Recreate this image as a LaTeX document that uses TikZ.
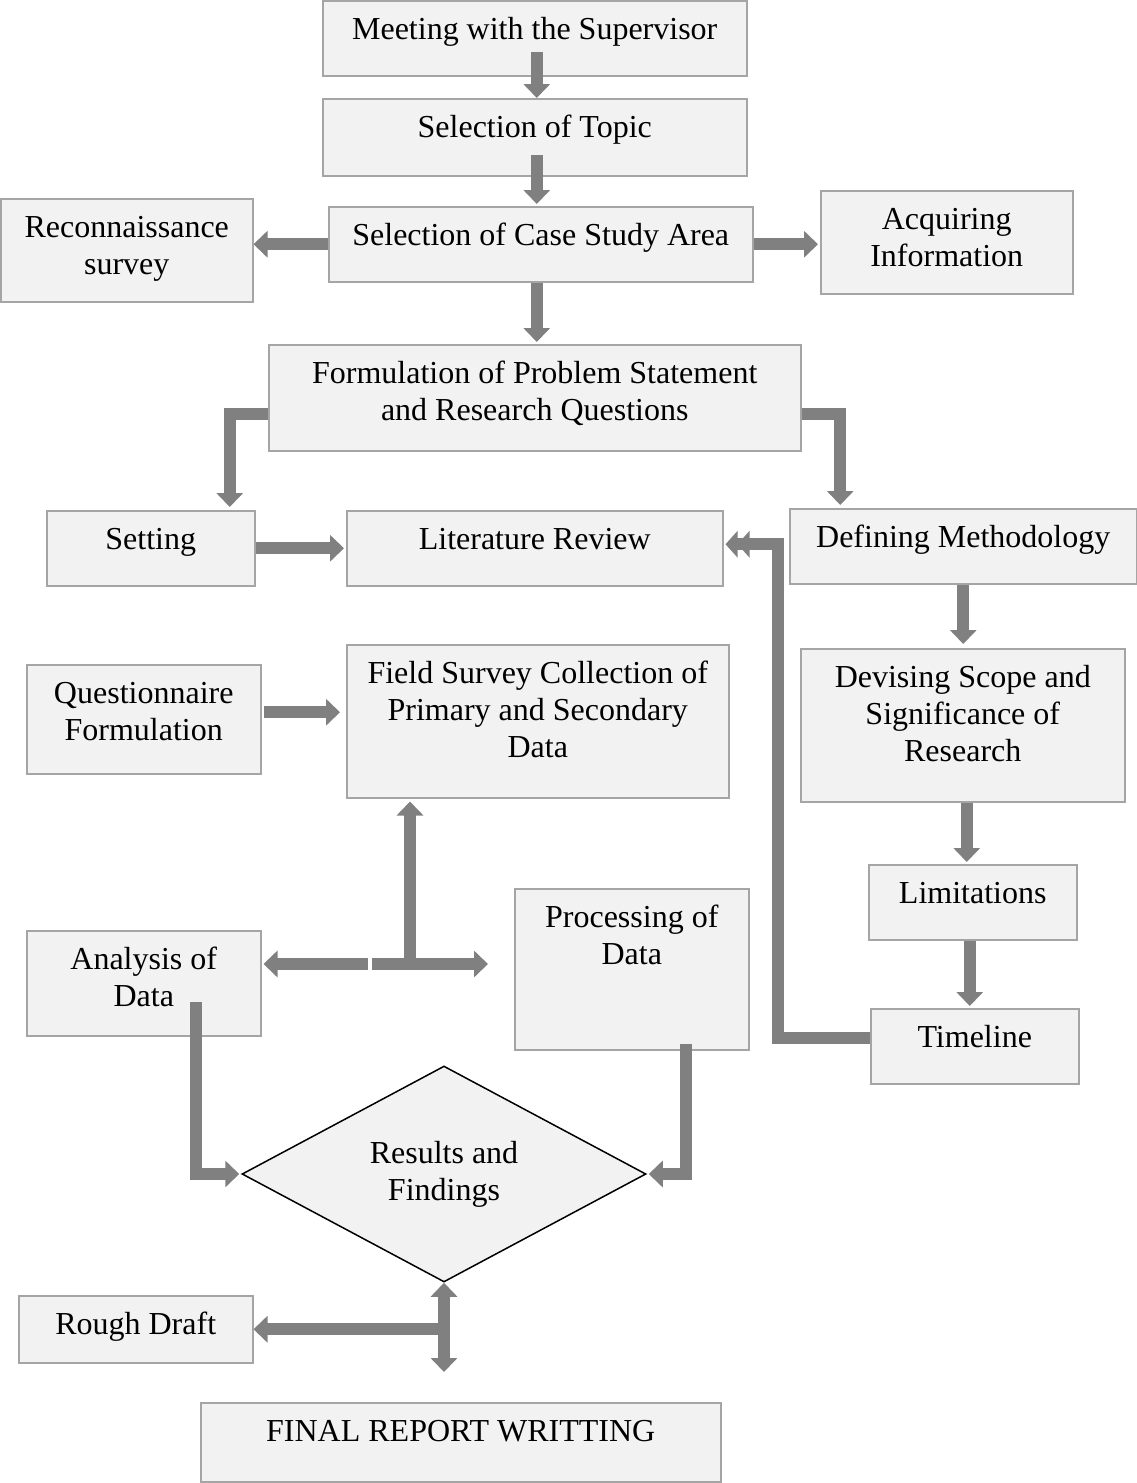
\documentclass[tikz,border=0pt]{standalone}
\usepackage{fontspec}
\setmainfont{Liberation Serif}
\usetikzlibrary{arrows.meta,calc,shapes.geometric}

\definecolor{boxfill}{HTML}{F2F2F2}
\definecolor{boxline}{HTML}{A5A5A5}
\definecolor{arrowgray}{HTML}{808080}

% box contents: width, height, text (top aligned, centred)
\newcommand\boxtext[3]{\parbox[c][#2pt][t]{#1pt}{\centering\rule{0pt}{39pt}#3\par}}

\tikzset{
  box/.style={draw=boxline, fill=boxfill, line width=1.5pt, inner sep=0pt,
    anchor=north west, font=\fontsize{32}{37}\selectfont},
  decision/.style={diamond, draw=black, line width=1.5pt, fill=boxfill,
    minimum width=404pt, minimum height=216pt, inner sep=0pt, align=center,
    font=\fontsize{32}{37}\selectfont},
  head/.tip={Triangle[width=26pt,length=14pt]},
  flow/.style={draw=arrowgray, line width=12pt, line join=miter, -{head}},
}

\begin{document}
\begin{tikzpicture}[x=1pt,y=-1pt]
\useasboundingbox (0,0) rectangle (1137,1483);

% process boxes
\node[box] (m)  at (322,0)    {\boxtext{424}{75}{Meeting with the Supervisor}};
\node[box] (t)  at (322,98)   {\boxtext{424}{77}{Selection of Topic}};
\node[box] (cs) at (328,206)  {\boxtext{424}{75}{Selection of Case Study Area}};
\node[box] (rs) at (0,198)    {\boxtext{252}{103}{Reconnaissance\\survey}};
\node[box] (ai) at (820,190)  {\boxtext{252}{103}{Acquiring\\Information}};
\node[box] (fp) at (268,344)  {\boxtext{532}{106}{Formulation of Problem Statement\\and Research Questions}};
\node[box] (se) at (46,510)   {\boxtext{208}{75}{Setting}};
\node[box] (lr) at (346,510)  {\boxtext{376}{75}{Literature Review}};
\node[box] (dm) at (789,508)  {\boxtext{347}{75}{Defining Methodology}};
\node[box] (qf) at (26,664)   {\boxtext{234}{109}{Questionnaire\\Formulation}};
\node[box] (fs) at (346,644)  {\boxtext{382}{153}{Field Survey Collection of\\Primary and Secondary\\Data}};
\node[box] (ds) at (800,648)  {\boxtext{324}{153}{Devising Scope and\\Significance of\\Research}};
\node[box] (li) at (868,864)  {\boxtext{208}{75}{Limitations}};
\node[box] (pd) at (514,888)  {\boxtext{234}{161}{Processing of\\Data}};
\node[box] (ad) at (26,930)   {\boxtext{234}{105}{Analysis of\\Data}};
\node[box] (tl) at (870,1008) {\boxtext{208}{75}{Timeline}};
\node[decision] (rf) at (444,1174) {Results and\\Findings};
\node[box] (rd) at (18,1295)  {\boxtext{234}{67}{Rough Draft}};
\node[box] (fr) at (200,1402) {\boxtext{520}{79}{FINAL REPORT WRITTING}};

% arrow starting points, junctions and free ends
\coordinate (s1) at ($(m.south)+(2,-25)$);
\coordinate (s2) at ($(t.south)+(2,-22)$);
\coordinate (s3) at ($(cs.south)+(-4,0)$);
\coordinate (s4) at ($(ds.south)+(4,0)$);
\coordinate (s5) at ($(li.south)+(-3,0)$);
\coordinate (q1) at ($(qf.east)+(2,-7)$);
\coordinate (tj) at (410,964);
\coordinate (tr) at (488,964);
\coordinate (bj) at (rf.south |- rd.east);
\coordinate (fe) at (444,1372);

% connectors
\draw[flow] (s1) -- (s1 |- t.north);
\draw[flow, shorten >=2pt] (s2) -- (s2 |- cs.north);
\draw[flow] (cs.west) -- (rs.east |- cs.west);
\draw[flow, shorten >=2pt] (cs.east) -- (ai.west |- cs.east);
\draw[flow, shorten >=2pt] (s3) -- (s3 |- fp.north);
\draw[flow, shorten >=3pt] ($(fp.west)+(0,16)$) -| ($(se.north)+(79,0)$);
\draw[flow, shorten >=3pt] ($(fp.east)+(0,16)$) -| ($(dm.north)+(-123,0)$);
\draw[flow, shorten >=2pt] (se.east) -- (lr.west);
\draw[flow, -{head[length=12pt]head[length=12pt]}, shorten >=2pt]
  ($(tl.west)+(0,-8)$) -- ++(-92,0) |- ($(lr.east)+(0,-4)$);
\draw[flow, shorten >=4pt] (dm.south) -- (dm.south |- ds.north);
\draw[flow, shorten >=2pt] (s4) -- (s4 |- li.north);
\draw[flow, shorten >=2pt] (s5) -- (s5 |- tl.north);
\draw[flow, shorten >=6pt] (q1) -- (q1 -| fs.west);
\draw[flow, shorten >=2pt] ($(tj)+(-42,0)$) -- (tj -| ad.east);
\draw[flow] ($(tj)+(-38,0)$) -- (tr);
\draw[flow, shorten >=3pt] (tj) -- (tj |- fs.south);
\draw[flow, shorten >=2pt] ($(ad.south)+(52,-35)$) |- (rf.west);
\draw[flow, shorten >=2pt] ($(pd.south)+(54,-7)$) |- (rf.east);
\draw[flow, {head}-{head}] (rf.south) -- (fe);
\draw[flow] (bj) -- (rd.east);

\end{tikzpicture}
\end{document}
